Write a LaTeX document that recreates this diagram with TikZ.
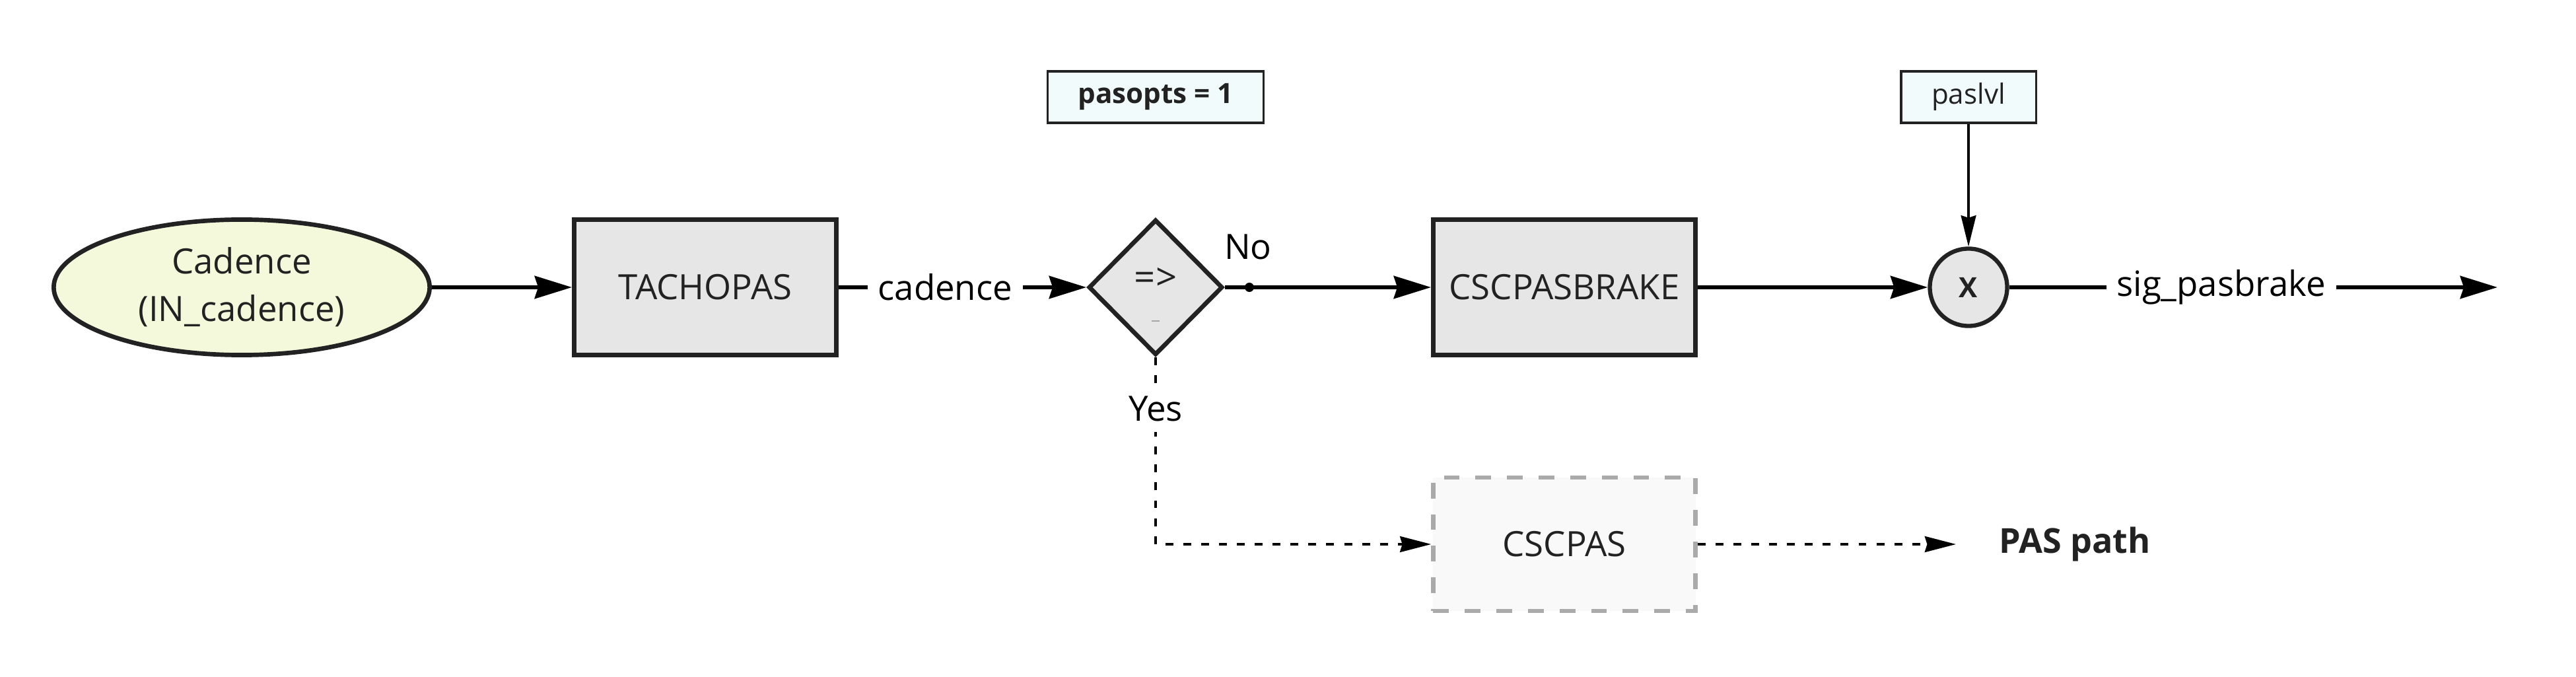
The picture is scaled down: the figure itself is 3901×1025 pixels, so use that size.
\documentclass[tikz,border=0pt]{standalone}
\usepackage{fontspec}
\setmainfont{Open Sans}
\usetikzlibrary{shapes.geometric,arrows.meta}
\definecolor{ellfill}{HTML}{F4F9DB}
\definecolor{boxfill}{HTML}{E6E6E6}
\definecolor{parfill}{HTML}{F2FBFB}
\definecolor{edge}{HTML}{222222}
\definecolor{ghostfill}{HTML}{F9F9F9}
\definecolor{ghostedge}{HTML}{AAAAAA}
\begin{document}
\begin{tikzpicture}[x=0.01cm,y=-0.01cm,
  mainfont/.style={font=\fontsize{15}{20.5}\selectfont},
  smallfont/.style={font=\fontsize{12}{14}\selectfont},
  blockbox/.style={rectangle, draw=edge, fill=boxfill, line width=1.9pt,
    minimum width=3.97cm, minimum height=2.05cm, inner sep=0pt, mainfont, text=edge},
  ghostbox/.style={rectangle, draw=ghostedge, fill=ghostfill, line width=1.8pt,
    dash pattern=on 6.8pt off 6.8pt,
    minimum width=3.97cm, minimum height=2.02cm, inner sep=0pt, mainfont, text=edge},
  inputell/.style={ellipse, draw=edge, fill=ellfill, line width=1.9pt,
    minimum width=5.69cm, minimum height=2.05cm, inner sep=0pt, align=center, mainfont, text=edge},
  decision/.style={diamond, draw=edge, fill=boxfill, line width=1.9pt,
    minimum width=2.03cm, minimum height=2.05cm, inner sep=0pt},
  mult/.style={circle, draw=edge, fill=boxfill, line width=1.8pt,
    minimum size=1.17cm, inner sep=0pt, font=\fontsize{12}{14}\selectfont\bfseries, text=edge},
  paramstyle/.style={rectangle, draw=edge, fill=parfill, line width=0.9pt,
    minimum height=0.78cm, inner sep=0pt, smallfont, text=edge},
  edgelabel/.style={fill=white, mainfont, text=black, inner sep=4.5pt},
  flowarrow/.style={line width=1.75pt, -{Stealth[length=16pt,width=9.7pt,inset=1.5pt]}},
  thinarrow/.style={line width=0.9pt, -{Stealth[length=13.4pt,width=6.5pt,inset=1pt]}},
  dasharrow/.style={line width=1.05pt, dash pattern=on 3.4pt off 4.3pt,
    -{Stealth[length=13.4pt,width=6.8pt,inset=1pt]}}
]
\useasboundingbox[fill=white] (0,0) rectangle (3901,1025);

% nodes
\node[inputell] (cad) at (366,435) {Cadence\\(IN\_cadence)};
\node[blockbox] (tacho) at (1068,435) {TACHOPAS};
\node[decision] (dia) at (1750,435) {};
\node[font=\fontsize{16}{18}\selectfont, text=edge] (diatext) at (1750,422) {=>};
\node[blockbox] (brake) at (2369,435) {CSCPASBRAKE};
\node[mult] (mul) at (2981,435) {X};
\node[paramstyle, minimum width=3.27cm, font=\fontsize{12}{14}\selectfont\bfseries] (pasopts) at (1750,147) {pasopts = 1};
\node[paramstyle, minimum width=2.04cm] (paslvl) at (2981,147) {paslvl};
\node[ghostbox] (cscpas) at (2369,824) {CSCPAS};
\node[font=\fontsize{14.8}{17}\selectfont\bfseries, text=edge] (pasout) at (3142,824) {PAS path};

\coordinate (outend) at (3782,435);
\coordinate (nodot) at (1892,435);
\coordinate (corner) at (1750,824);
\coordinate (pasend) at (2962,824);

% small mark inside the decision
\draw[gray!70, line width=0.8pt] (1744,486) -- (1756,486);

% connectors
\draw[flowarrow] (cad) -- (tacho);
\draw[flowarrow] (tacho.east) -- node[edgelabel, pos=0.43] {cadence} (dia.west);
\draw[flowarrow] (dia.east) -- (brake.west);
\fill (nodot) circle[radius=2pt];
\node[mainfont] (nolabel) at (1890,374) {No};
\draw[flowarrow] (brake.east) -- (mul.west);
\draw[thinarrow] (paslvl.south) -- (mul.north);
\draw[flowarrow] (mul.east) -- node[edgelabel, pos=0.434] {sig\_pasbrake} (outend);
\draw[dasharrow] (dia.south) -- node[edgelabel, pos=0.277] {Yes} (corner) -- (cscpas.west);
\draw[dasharrow] (cscpas.east) -- (pasend);
\end{tikzpicture}
\end{document}
